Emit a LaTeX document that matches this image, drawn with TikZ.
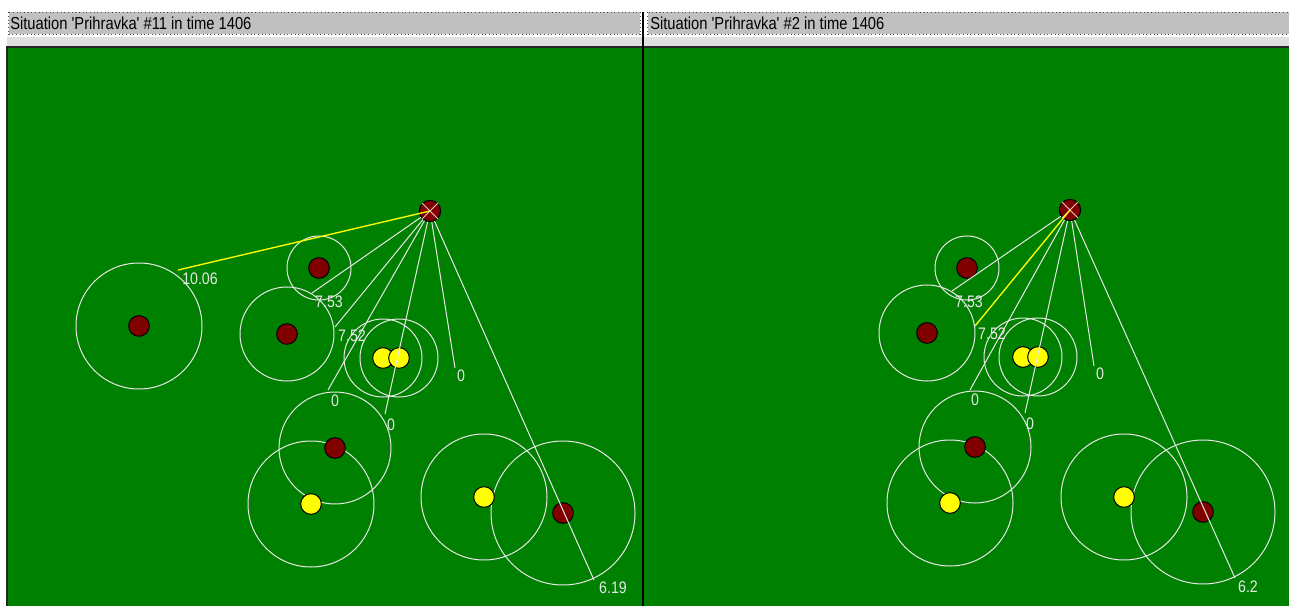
\documentclass[tikz,border=0pt]{standalone}
\usepackage{fontspec}
\newfontfamily\guifont[FakeStretch=0.85,Ligatures=TeXOff]{Liberation Sans}
\definecolor{pitch}{RGB}{0,128,0}
\definecolor{maroon}{RGB}{128,0,0}
\definecolor{chalk}{RGB}{232,232,232}
\definecolor{ballyellow}{RGB}{255,255,0}
\definecolor{barfill}{RGB}{192,192,192}
\definecolor{bandfill}{RGB}{224,224,224}
\definecolor{crossmark}{RGB}{235,200,200}
\begin{document}
\begin{tikzpicture}[x=0.75pt,y=0.75pt,yscale=-1,
  redman/.style={circle, draw=black, line width=0.75pt, fill=maroon, minimum size=15.5pt, inner sep=0pt},
  yellowman/.style={circle, draw=black, line width=0.75pt, fill=ballyellow, minimum size=15.5pt, inner sep=0pt},
  kicker/.style={redman, minimum size=16pt},
  ring/.style={draw=chalk, line width=0.75pt},
  ray/.style={draw=chalk, line width=0.75pt},
  pass/.style={draw=ballyellow, line width=1pt},
  val/.style={text=chalk, font=\guifont\fontsize{12.5}{12.5}\selectfont, inner sep=0pt},
  titlebar/.style={draw=black!70, dotted, fill=barfill, line width=0.75pt},
  titletext/.style={font=\guifont\fontsize{13}{13}\selectfont, anchor=west, inner sep=0pt}]
\useasboundingbox (0,0) rectangle (1289,606);
\fill[white] (0,0) rectangle (1289,606);
\fill[bandfill] (7,37) rectangle (1289,46);
\fill[black!85] (6,46) rectangle (1289,48);
\fill[pitch] (8,48) rectangle (1289,606);
\fill[black!85] (6,46) rectangle (8,606);
\draw[titlebar] (8.5,12.5) rectangle (640,34.5);
\draw[titlebar] (647.5,12.5) rectangle (1292,34.5);
\fill[black] (642,12) rectangle (644,606);
\node[titletext] (t1) at (10,23) {Situation 'Prihravka' \#11 in time 1406};
\node[titletext] (t2) at (650,23) {Situation 'Prihravka' \#2 in time 1406};

\coordinate (a1) at (139,326);
\coordinate (a2) at (319,268);
\coordinate (a3) at (287,334);
\coordinate (a4) at (383,358);
\coordinate (a5) at (399,358);
\coordinate (a6) at (335,448);
\coordinate (a7) at (311,504);
\coordinate (a8) at (484,497);
\coordinate (a9) at (563,513);
\draw[ring] (a1) circle [radius=63];
\draw[ring] (a2) circle [radius=32];
\draw[ring] (a3) circle [radius=47];
\draw[ring] (a4) circle [radius=39];
\draw[ring] (a5) circle [radius=39];
\draw[ring] (a6) circle [radius=56];
\draw[ring] (a7) circle [radius=63];
\draw[ring] (a8) circle [radius=63];
\draw[ring] (a9) circle [radius=72];
\node[redman] (pa1) at (a1) {};
\node[redman] (pa2) at (a2) {};
\node[redman] (pa3) at (a3) {};
\node[yellowman] (pa4) at (a4) {};
\node[yellowman] (pa5) at (a5) {};
\node[redman] (pa6) at (a6) {};
\node[yellowman] (pa7) at (a7) {};
\node[yellowman] (pa8) at (a8) {};
\node[redman] (pa9) at (a9) {};
\node[kicker] (ka) at (430,211) {};
\coordinate (ea1) at (178,270);
\coordinate (ea2) at (312,293);
\coordinate (ea3) at (335,327);
\coordinate (ea4) at (328,390);
\coordinate (ea5) at (385,414);
\coordinate (ea6) at (455,368);
\coordinate (ea7) at (594,580);
\draw[ray] (ka) -- (ea2);
\draw[ray] (ka) -- (ea3);
\draw[ray] (ka) -- (ea4);
\draw[ray] (ka) -- (ea5);
\draw[ray] (ka) -- (ea6);
\draw[ray] (ka) -- (ea7);
\draw[crossmark, line width=0.75pt] (ka.45) -- (ka.225) (ka.135) -- (ka.315);
\draw[pass] (ka.center) -- (ea1);
\node[val] (va1) at (200,279) {10.06};
\node[val] (va2) at (329,302) {7.53};
\node[val] (va3) at (352,336) {7.52};
\node[val] (va4) at (335,401) {0};
\node[val] (va5) at (391,425) {0};
\node[val] (va6) at (461,376) {0};
\node[val] (va7) at (613,588) {6.19};

\coordinate (b2) at (967,268);
\coordinate (b3) at (927,333);
\coordinate (b4) at (1023,357);
\coordinate (b5) at (1038,357);
\coordinate (b6) at (975,447);
\coordinate (b7) at (950,503);
\coordinate (b8) at (1124,497);
\coordinate (b9) at (1203,512);
\draw[ring] (b2) circle [radius=32];
\draw[ring] (b3) circle [radius=48];
\draw[ring] (b4) circle [radius=39];
\draw[ring] (b5) circle [radius=39];
\draw[ring] (b6) circle [radius=56];
\draw[ring] (b7) circle [radius=63];
\draw[ring] (b8) circle [radius=63];
\draw[ring] (b9) circle [radius=72];
\node[redman] (pb2) at (b2) {};
\node[redman] (pb3) at (b3) {};
\node[yellowman] (pb4) at (b4) {};
\node[yellowman] (pb5) at (b5) {};
\node[redman] (pb6) at (b6) {};
\node[yellowman] (pb7) at (b7) {};
\node[yellowman] (pb8) at (b8) {};
\node[redman] (pb9) at (b9) {};
\node[kicker] (kb) at (1070,210) {};
\coordinate (eb2) at (952,291);
\coordinate (eb3) at (975,326);
\coordinate (eb4) at (970,390);
\coordinate (eb5) at (1025,413);
\coordinate (eb6) at (1094,366);
\coordinate (eb7) at (1235,578);
\draw[ray] (kb) -- (eb2);
\draw[ray] (kb) -- (eb4);
\draw[ray] (kb) -- (eb5);
\draw[ray] (kb) -- (eb6);
\draw[ray] (kb) -- (eb7);
\draw[crossmark, line width=0.75pt] (kb.45) -- (kb.225) (kb.135) -- (kb.315);
\draw[pass] (kb.center) -- (eb3);
\node[val] (vb2) at (969,302) {7.53};
\node[val] (vb3) at (992,334) {7.52};
\node[val] (vb4) at (975,400) {0};
\node[val] (vb5) at (1030,424) {0};
\node[val] (vb6) at (1100,374) {0};
\node[val] (vb7) at (1248,587) {6.2};
\end{tikzpicture}
\end{document}
